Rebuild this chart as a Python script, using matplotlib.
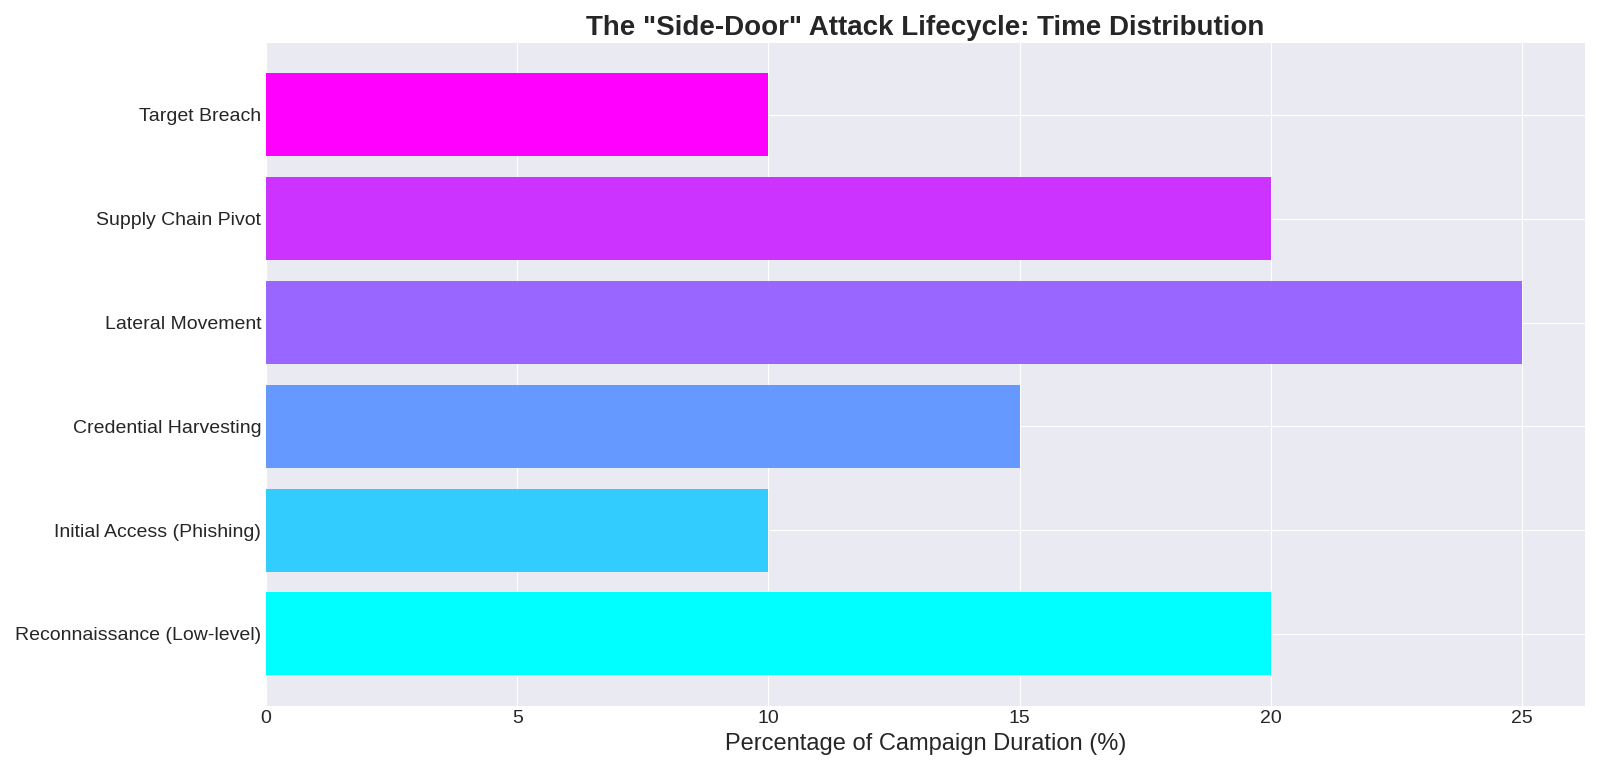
import numpy as np
import matplotlib.pyplot as plt

stages = [
    'Reconnaissance (Low-level)',
    'Initial Access (Phishing)',
    'Credential Harvesting',
    'Lateral Movement',
    'Supply Chain Pivot',
    'Target Breach',
]
time_share = [20, 10, 15, 25, 20, 10]

plt.style.use('seaborn-v0_8-darkgrid')
plt.rcParams['font.family'] = ['Liberation Sans', 'DejaVu Sans']

colors = plt.cm.cool(np.linspace(0, 1, len(stages)))

fig, ax = plt.subplots(figsize=(16, 7.7), dpi=100)
ax.barh(stages, time_share, color=colors, height=0.8)

ax.set_xlabel('Percentage of Campaign Duration (%)', fontsize=17)
ax.set_title('The "Side-Door" Attack Lifecycle: Time Distribution', fontsize=20, fontweight='bold')
ax.tick_params(axis='both', labelsize=14)

plt.tight_layout()
plt.savefig('out.png', dpi=100)
